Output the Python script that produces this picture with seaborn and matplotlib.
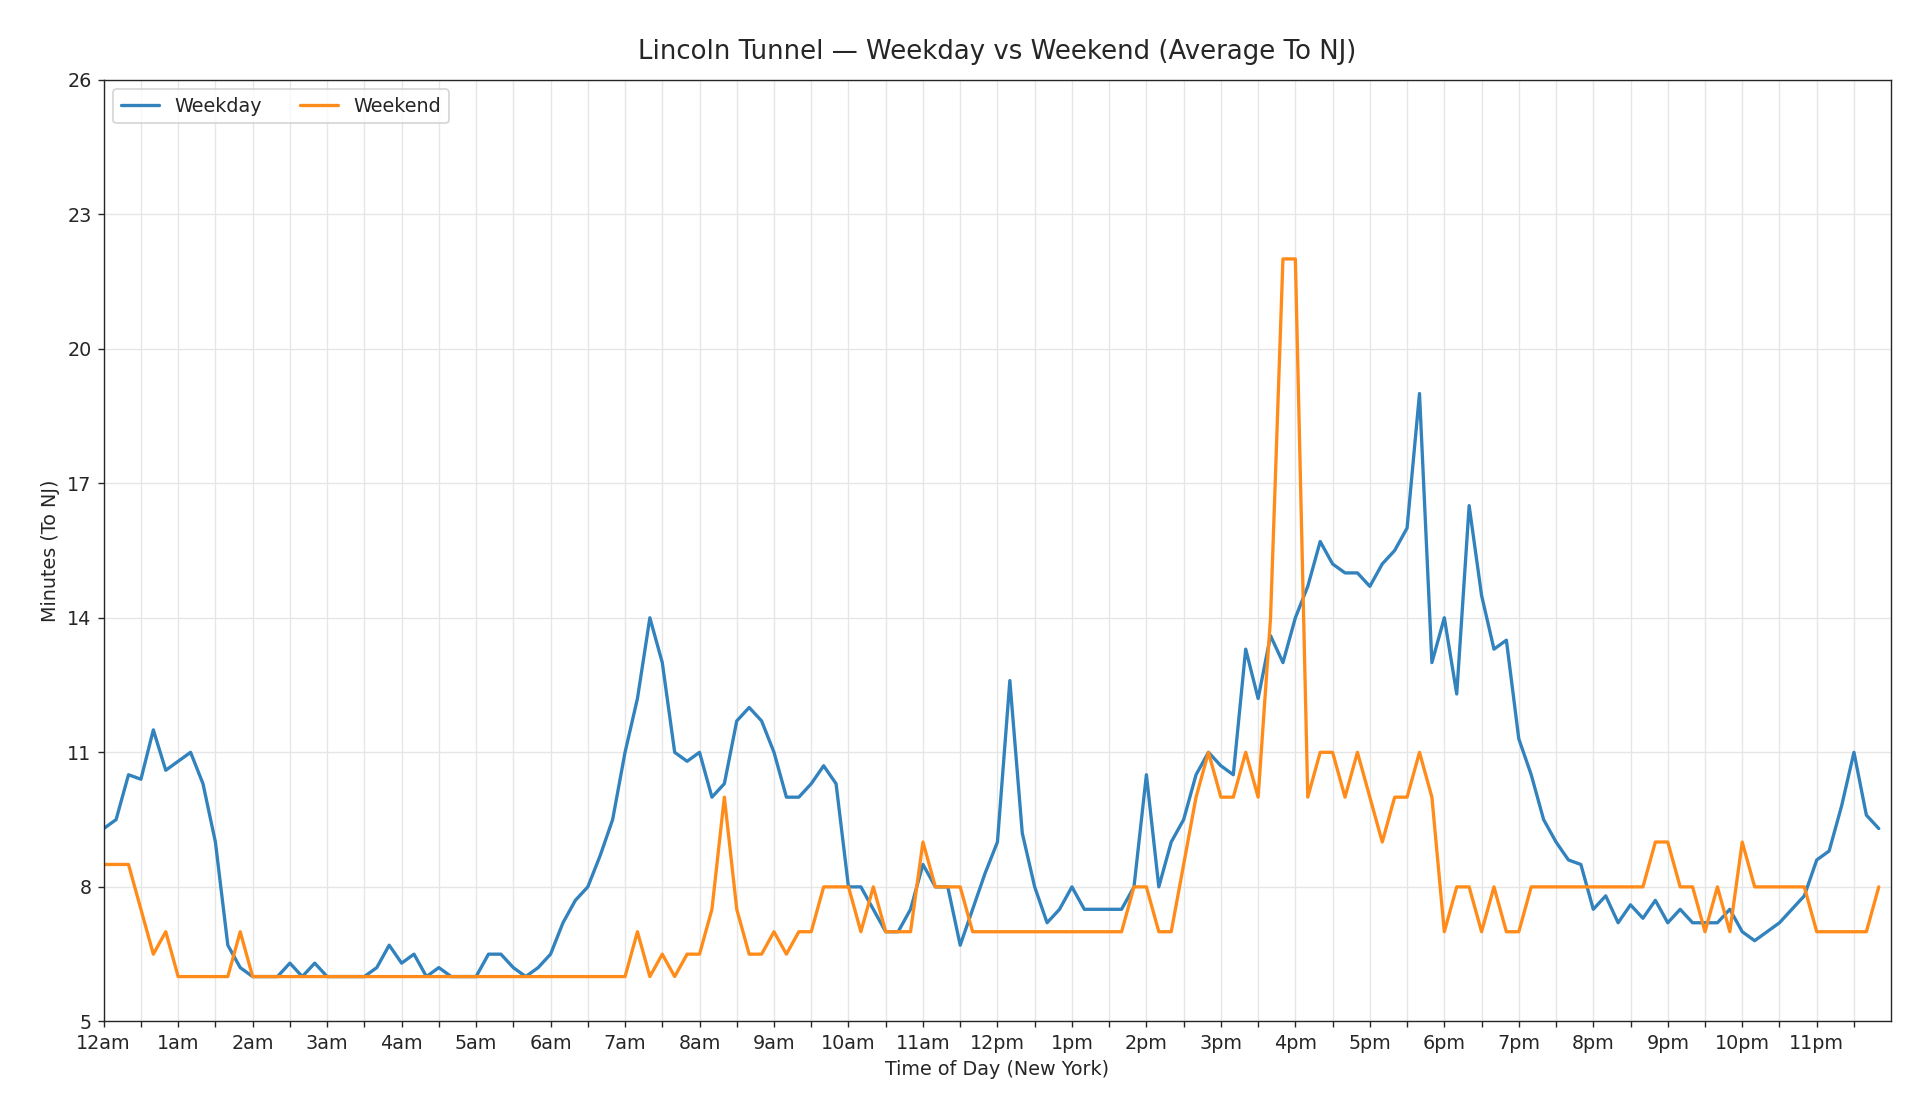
import numpy as np
import pandas as pd
import seaborn as sns
import matplotlib.pyplot as plt

# 10-minute samples, 6 per hour
weekday = [
    9.3, 9.5, 10.5, 10.4, 11.5, 10.6,
    10.8, 11.0, 10.3, 9.0, 6.7, 6.2,
    6.0, 6.0, 6.0, 6.3, 6.0, 6.3,
    6.0, 6.0, 6.0, 6.0, 6.2, 6.7,
    6.3, 6.5, 6.0, 6.2, 6.0, 6.0,
    6.0, 6.5, 6.5, 6.2, 6.0, 6.2,
    6.5, 7.2, 7.7, 8.0, 8.7, 9.5,
    11.0, 12.2, 14.0, 13.0, 11.0, 10.8,
    11.0, 10.0, 10.3, 11.7, 12.0, 11.7,
    11.0, 10.0, 10.0, 10.3, 10.7, 10.3,
    8.0, 8.0, 7.5, 7.0, 7.0, 7.5,
    8.5, 8.0, 8.0, 6.7, 7.5, 8.3,
    9.0, 12.6, 9.2, 8.0, 7.2, 7.5,
    8.0, 7.5, 7.5, 7.5, 7.5, 8.0,
    10.5, 8.0, 9.0, 9.5, 10.5, 11.0,
    10.7, 10.5, 13.3, 12.2, 13.6, 13.0,
    14.0, 14.7, 15.7, 15.2, 15.0, 15.0,
    14.7, 15.2, 15.5, 16.0, 19.0, 13.0,
    14.0, 12.3, 16.5, 14.5, 13.3, 13.5,
    11.3, 10.5, 9.5, 9.0, 8.6, 8.5,
    7.5, 7.8, 7.2, 7.6, 7.3, 7.7,
    7.2, 7.5, 7.2, 7.2, 7.2, 7.5,
    7.0, 6.8, 7.0, 7.2, 7.5, 7.8,
    8.6, 8.8, 9.8, 11.0, 9.6, 9.3,
]
weekend = [
    8.5, 8.5, 8.5, 7.5, 6.5, 7.0,
    6.0, 6.0, 6.0, 6.0, 6.0, 7.0,
    6.0, 6.0, 6.0, 6.0, 6.0, 6.0,
    6.0, 6.0, 6.0, 6.0, 6.0, 6.0,
    6.0, 6.0, 6.0, 6.0, 6.0, 6.0,
    6.0, 6.0, 6.0, 6.0, 6.0, 6.0,
    6.0, 6.0, 6.0, 6.0, 6.0, 6.0,
    6.0, 7.0, 6.0, 6.5, 6.0, 6.5,
    6.5, 7.5, 10.0, 7.5, 6.5, 6.5,
    7.0, 6.5, 7.0, 7.0, 8.0, 8.0,
    8.0, 7.0, 8.0, 7.0, 7.0, 7.0,
    9.0, 8.0, 8.0, 8.0, 7.0, 7.0,
    7.0, 7.0, 7.0, 7.0, 7.0, 7.0,
    7.0, 7.0, 7.0, 7.0, 7.0, 8.0,
    8.0, 7.0, 7.0, 8.5, 10.0, 11.0,
    10.0, 10.0, 11.0, 10.0, 14.0, 22.0,
    22.0, 10.0, 11.0, 11.0, 10.0, 11.0,
    10.0, 9.0, 10.0, 10.0, 11.0, 10.0,
    7.0, 8.0, 8.0, 7.0, 8.0, 7.0,
    7.0, 8.0, 8.0, 8.0, 8.0, 8.0,
    8.0, 8.0, 8.0, 8.0, 8.0, 9.0,
    9.0, 8.0, 8.0, 7.0, 8.0, 7.0,
    9.0, 8.0, 8.0, 8.0, 8.0, 8.0,
    7.0, 7.0, 7.0, 7.0, 7.0, 8.0,
]
hour_labels = ["12am"] + [f"{h}am" for h in range(1, 12)] + ["12pm"] + [f"{h}pm" for h in range(1, 12)]
y_ticks = [5, 8, 11, 14, 17, 20, 23, 26]

hours = np.arange(len(weekday)) / 6.0
df = pd.DataFrame({"hour": np.concatenate([hours, hours]),
                   "minutes": weekday + weekend,
                   "series": ["Weekday"] * len(weekday) + ["Weekend"] * len(weekend)})

sns.set_style("ticks")
plt.rcParams["font.family"] = ["DejaVu Sans"]
fig, ax = plt.subplots(figsize=(15.36, 8.96), dpi=125)
sns.lineplot(data=df, x="hour", y="minutes", hue="series",
             palette=["#3182bd", "#ff8c1a"], linewidth=1.9, ax=ax)

ticks = np.arange(0, 24, 0.5)
ax.set_xticks(ticks)
ax.set_xticklabels([hour_labels[int(t)] if t == int(t) else "" for t in ticks], fontsize=11)
ax.set_xlim(0, 24)
ax.set_ylim(5, 26)
ax.set_yticks(y_ticks)
ax.tick_params(axis="y", labelsize=11)
ax.grid(True, color="#e6e6e6", linewidth=0.8)
ax.set_xlabel("Time of Day (New York)", fontsize=11)
ax.set_ylabel("Minutes (To NJ)", fontsize=11)
ax.set_title("Lincoln Tunnel — Weekday vs Weekend (Average To NJ)", fontsize=15, pad=12)
ax.legend(title=None, loc="upper left", ncol=2, fontsize=11)
fig.subplots_adjust(left=0.054, right=0.985, top=0.929, bottom=0.088)
plt.savefig("out.png")
